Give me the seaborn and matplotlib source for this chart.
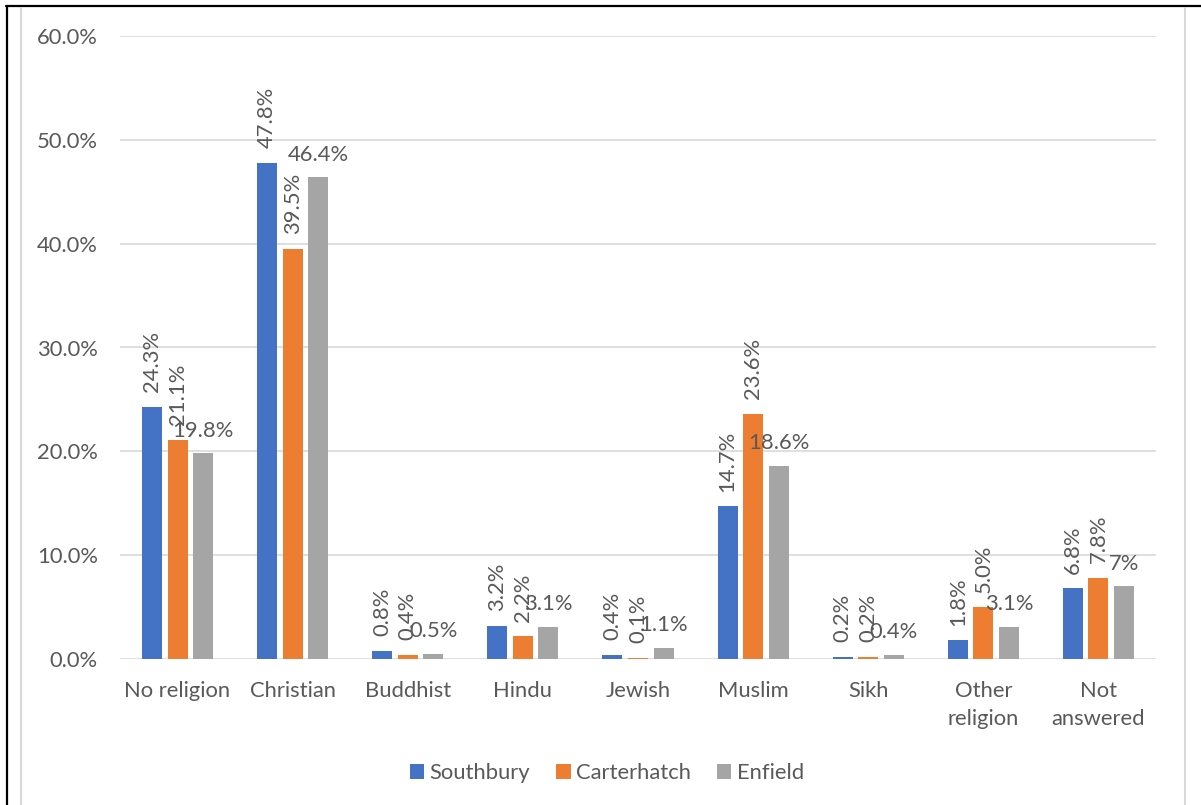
import matplotlib
matplotlib.use("Agg")
import matplotlib.pyplot as plt
from matplotlib.patches import Patch
from matplotlib.lines import Line2D
from matplotlib.ticker import FixedLocator, FuncFormatter
import pandas as pd
import seaborn as sns

# Religion breakdown by area (% of residents)
categories = ["No religion", "Christian", "Buddhist", "Hindu", "Jewish",
              "Muslim", "Sikh", "Other\nreligion", "Not\nanswered"]
southbury = [24.3, 47.8, 0.8, 3.2, 0.4, 14.7, 0.2, 1.8, 6.8]
carterhatch = [21.1, 39.5, 0.4, 2.2, 0.1, 23.6, 0.2, 5.0, 7.8]
enfield = [19.8, 46.4, 0.5, 3.1, 1.1, 18.6, 0.4, 3.1, 7.0]
series_names = ["Southbury", "Carterhatch", "Enfield"]
series_colors = ["#4472C4", "#ED7D31", "#A5A5A5"]
y_ticks = [0, 10, 20, 30, 40, 50, 60]

TEXT = "#595959"
GRID = "#D9D9D9"
FS = 15.8

sns.set_theme(style="white")
plt.rcParams["font.family"] = ["Lato", "DejaVu Sans"]

series_values = [southbury, carterhatch, enfield]
df = pd.DataFrame({
    "Religion": categories * len(series_names),
    "Area": [n for n in series_names for _ in categories],
    "Percent": [v for vals in series_values for v in vals],
})

W, H = 1201, 805
fig = plt.figure(figsize=(W / 100, H / 100), dpi=100)
ax = fig.add_axes([120 / W, 146 / H, 1036 / W, 623 / H])

sns.barplot(data=df, x="Religion", y="Percent", hue="Area",
            order=categories, hue_order=series_names, palette=series_colors,
            saturation=1, width=0.665, gap=0.216, linewidth=0,
            errorbar=None, legend=False, ax=ax)

# value labels: first two series vertical, last one horizontal
for i, cont in enumerate(ax.containers):
    vals = series_values[i]
    if i < 2:
        ax.bar_label(cont, labels=[f"{v:.1f}%" for v in vals], rotation=90,
                     padding=10.5, fontsize=FS, color=TEXT)
    else:
        ax.bar_label(cont, labels=[f"{v:g}%" for v in vals],
                     padding=9, fontsize=FS, color=TEXT)

ax.set_xlim(-0.5, len(categories) - 0.5)
ax.set_ylim(0, 60)
ax.yaxis.set_major_locator(FixedLocator(y_ticks))
ax.yaxis.set_major_formatter(FuncFormatter(lambda v, p: f"{v:.1f}%"))
ax.yaxis.grid(True, color=GRID, linewidth=1.2)
ax.xaxis.grid(False)
ax.set_axisbelow(True)
for s in ax.spines.values():
    s.set_visible(False)
ax.set_xlabel("")
ax.set_ylabel("")
ax.tick_params(axis="y", length=0, pad=16, labelsize=FS, labelcolor=TEXT)
ax.tick_params(axis="x", length=0, pad=15.5, labelsize=FS, labelcolor=TEXT)
for lbl in ax.get_xticklabels():
    lbl.set_linespacing(1.55)

handles = [Patch(facecolor=c, edgecolor="none", label=n)
           for n, c in zip(series_names, series_colors)]
fig.legend(handles=handles, loc="center", bbox_to_anchor=(607 / W, 1 - 773 / H),
           ncol=3, frameon=False, fontsize=FS, labelcolor=TEXT,
           handlelength=0.64, handleheight=0.64, handletextpad=0.25,
           columnspacing=1.2)

# frame lines around the chart
fig.add_artist(Line2D([7 / W, 7 / W], [0, 1 - 6.5 / H], color="black",
                      lw=1.6, transform=fig.transFigure))
fig.add_artist(Line2D([6 / W, 1], [1 - 6.5 / H, 1 - 6.5 / H], color="black",
                      lw=1.6, transform=fig.transFigure))
fig.add_artist(Line2D([21 / W, 21 / W], [0, 1 - 8 / H], color=GRID,
                      lw=1.5, transform=fig.transFigure))
fig.add_artist(Line2D([1185 / W, 1185 / W], [0, 1 - 8 / H], color=GRID,
                      lw=1.5, transform=fig.transFigure))

fig.savefig("out.png", dpi=100)
